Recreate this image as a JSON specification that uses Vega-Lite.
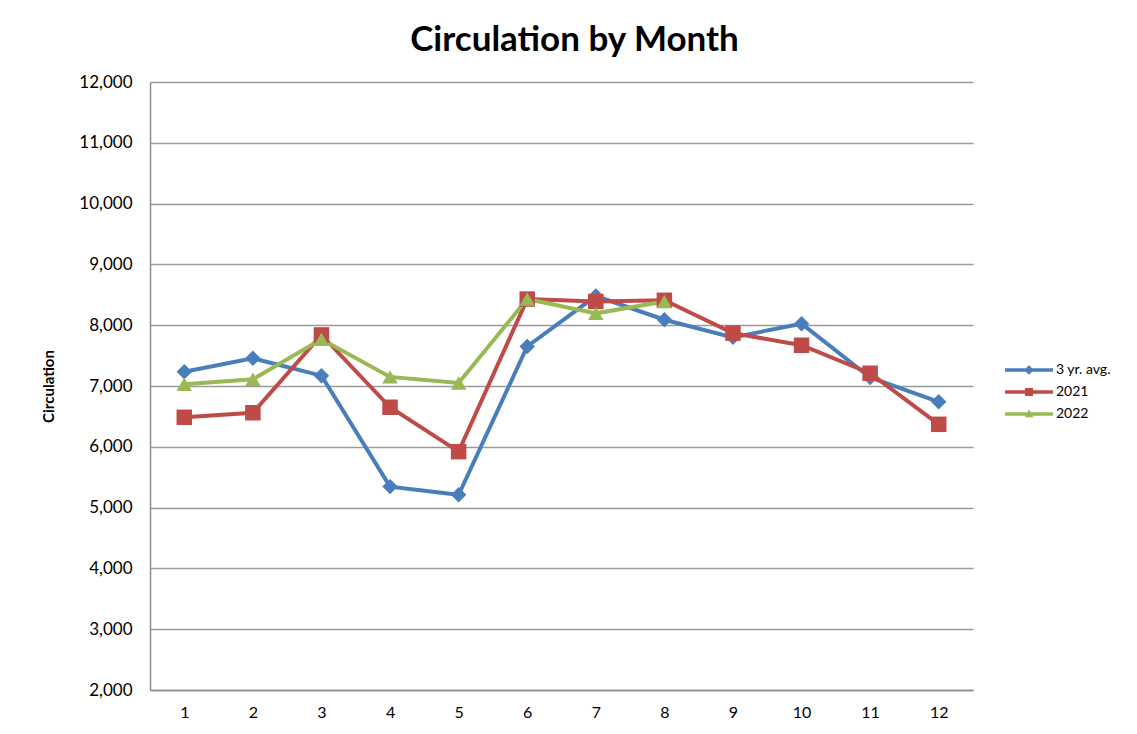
{
  "$schema": "https://vega.github.io/schema/vega-lite/v6.json",
  "width": 823,
  "height": 608,
  "autosize": "none",
  "padding": {"left": 150, "top": 82, "right": 164, "bottom": 44},
  "background": "white",
  "config": {
    "view": {"stroke": null},
    "font": "Lato"
  },
  "title": {
    "text": "Circulation by Month",
    "font": "Lato",
    "fontSize": 35,
    "fontWeight": "bold",
    "color": "#000000",
    "anchor": "middle",
    "frame": "group",
    "baseline": "alphabetic",
    "offset": -13,
    "dx": 13
  },
  "data": {
    "values": [
      {"month": 1, "series": "3 yr. avg.", "value": 7235},
      {"month": 2, "series": "3 yr. avg.", "value": 7455},
      {"month": 3, "series": "3 yr. avg.", "value": 7170},
      {"month": 4, "series": "3 yr. avg.", "value": 5345},
      {"month": 5, "series": "3 yr. avg.", "value": 5210},
      {"month": 6, "series": "3 yr. avg.", "value": 7650},
      {"month": 7, "series": "3 yr. avg.", "value": 8480},
      {"month": 8, "series": "3 yr. avg.", "value": 8090},
      {"month": 9, "series": "3 yr. avg.", "value": 7800},
      {"month": 10, "series": "3 yr. avg.", "value": 8025},
      {"month": 11, "series": "3 yr. avg.", "value": 7140},
      {"month": 12, "series": "3 yr. avg.", "value": 6740},
      {"month": 1, "series": "2021", "value": 6485},
      {"month": 2, "series": "2021", "value": 6560},
      {"month": 3, "series": "2021", "value": 7840},
      {"month": 4, "series": "2021", "value": 6650},
      {"month": 5, "series": "2021", "value": 5920},
      {"month": 6, "series": "2021", "value": 8430},
      {"month": 7, "series": "2021", "value": 8390},
      {"month": 8, "series": "2021", "value": 8410},
      {"month": 9, "series": "2021", "value": 7870},
      {"month": 10, "series": "2021", "value": 7670},
      {"month": 11, "series": "2021", "value": 7210},
      {"month": 12, "series": "2021", "value": 6370},
      {"month": 1, "series": "2022", "value": 7030},
      {"month": 2, "series": "2022", "value": 7110},
      {"month": 3, "series": "2022", "value": 7770},
      {"month": 4, "series": "2022", "value": 7150},
      {"month": 5, "series": "2022", "value": 7050},
      {"month": 6, "series": "2022", "value": 8430},
      {"month": 7, "series": "2022", "value": 8195},
      {"month": 8, "series": "2022", "value": 8390}
    ]
  },
  "encoding": {
    "x": {
      "field": "month",
      "type": "ordinal",
      "scale": {"type": "point", "padding": 0.5},
      "axis": {
        "title": null,
        "labelAngle": 0,
        "labelFont": "Lato",
        "labelFontSize": 16,
        "labelColor": "#000000",
        "labelPadding": 14,
        "ticks": false,
        "domainColor": "#8c8c8c",
        "domainWidth": 1.5,
        "grid": false
      }
    },
    "y": {
      "field": "value",
      "type": "quantitative",
      "scale": {"domain": [2000, 12000], "nice": false, "zero": false},
      "axis": {
        "title": "Circulation",
        "titleFont": "Lato",
        "titleFontSize": 15,
        "titleFontWeight": "bold",
        "titleColor": "#000000",
        "titlePadding": 22,
        "values": [2000, 3000, 4000, 5000, 6000, 7000, 8000, 9000, 10000, 11000, 12000],
        "format": ",.0f",
        "labelFont": "Lato",
        "labelFontSize": 17,
        "labelColor": "#000000",
        "labelPadding": 18,
        "ticks": false,
        "domainColor": "#8c8c8c",
        "domainWidth": 1.5,
        "grid": true,
        "gridColor": "#9a9a9a",
        "gridWidth": 1.5
      }
    },
    "color": {
      "field": "series",
      "type": "nominal",
      "scale": {
        "domain": ["3 yr. avg.", "2021", "2022"],
        "range": ["#4a7ebb", "#be4b48", "#98b954"]
      },
      "legend": null
    }
  },
  "layer": [
    {
      "mark": {"type": "line", "strokeWidth": 4},
      "encoding": {"detail": {"field": "series"}}
    },
    {
      "mark": {"type": "point", "filled": true, "opacity": 1, "size": 240, "strokeWidth": 0},
      "encoding": {
        "shape": {
          "field": "series",
          "type": "nominal",
          "scale": {
            "domain": ["3 yr. avg.", "2021", "2022"],
            "range": ["diamond", "square", "triangle-up"]
          },
          "legend": null
        }
      }
    },
    {
      "transform": [{"filter": "false"}],
      "mark": {"type": "point", "filled": true, "opacity": 1, "strokeWidth": 0},
      "encoding": {
        "color": {"value": null},
        "fill": {
          "field": "series",
          "type": "nominal",
          "scale": {
            "domain": ["3 yr. avg.", "2021", "2022"],
            "range": ["#4a7ebb", "#be4b48", "#98b954"]
          },
          "legend": {
            "title": null,
            "orient": "none",
            "legendX": 864,
            "legendY": 273,
            "symbolSize": 900,
            "symbolStrokeWidth": 0,
            "labelFont": "Lato",
            "labelFontSize": 14,
            "labelColor": "#000000",
            "labelOffset": 12,
            "rowPadding": 0
          }
        },
        "shape": {
          "field": "series",
          "type": "nominal",
          "scale": {
            "domain": ["3 yr. avg.", "2021", "2022"],
            "range": [
              "M-1.6,-0.12H1.6V0.12H-1.6Z M0,-0.32L0.32,0L0,0.32L-0.32,0Z",
              "M-1.6,-0.12H1.6V0.12H-1.6Z M-0.27,-0.27H0.27V0.27H-0.27Z",
              "M-1.6,-0.12H1.6V0.12H-1.6Z M0,-0.32L0.3,0.22L-0.3,0.22Z"
            ]
          },
          "legend": {
            "title": null,
            "orient": "none",
            "legendX": 864,
            "legendY": 273,
            "symbolSize": 900,
            "symbolStrokeWidth": 0,
            "labelFont": "Lato",
            "labelFontSize": 14,
            "labelColor": "#000000",
            "labelOffset": 12,
            "rowPadding": 0
          }
        }
      }
    }
  ],
  "resolve": {"scale": {"shape": "independent", "fill": "independent"}}
}
